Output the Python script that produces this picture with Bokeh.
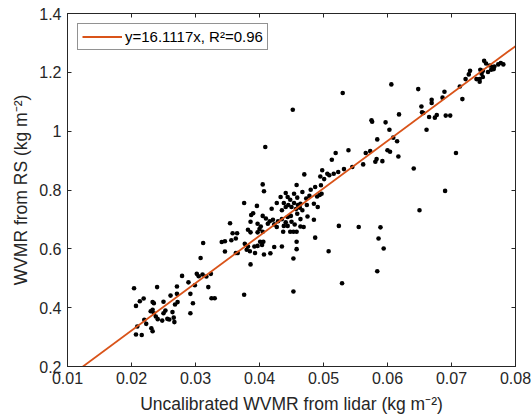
from bokeh.plotting import figure
from bokeh.models import Range1d, LinearAxis, FixedTicker, Legend, LegendItem
from bokeh.embed import file_html
from bokeh.resources import INLINE

# ---- data ----
lidar_wvmr = [
    0.0240, 0.0204, 0.0279, 0.0302, 0.0305, 0.0311, 0.0324, 0.0317, 0.0289, 0.0271,
    0.0299, 0.0320, 0.0261, 0.0271, 0.0292, 0.0219, 0.0213, 0.0233, 0.0235, 0.0250,
    0.0207, 0.0272, 0.0296, 0.0268, 0.0325, 0.0330, 0.0376, 0.0233, 0.0230, 0.0235,
    0.0253, 0.0250, 0.0264, 0.0238, 0.0241, 0.0248, 0.0256, 0.0266, 0.0292, 0.0220,
    0.0223, 0.0267, 0.0259, 0.0209, 0.0231, 0.0233, 0.0207, 0.0216,
    0.0312, 0.0341, 0.0346, 0.0356, 0.0377, 0.0382, 0.0392, 0.0380, 0.0385, 0.0393,
    0.0363, 0.0366, 0.0346, 0.0308, 0.0386, 0.0401, 0.0397,
    0.0470, 0.0498, 0.0506, 0.0516, 0.0523, 0.0495, 0.0501, 0.0509, 0.0405, 0.0407,
    0.0458, 0.0480, 0.0487, 0.0496, 0.0467, 0.0454, 0.0441, 0.0376, 0.0396, 0.0433,
    0.0444, 0.0448, 0.0459, 0.0473, 0.0478, 0.0490, 0.0494, 0.0497, 0.0427, 0.0438,
    0.0445, 0.0441, 0.0454, 0.0460, 0.0464, 0.0419, 0.0435, 0.0450, 0.0457, 0.0463,
    0.0474, 0.0485, 0.0491, 0.0390, 0.0387, 0.0405, 0.0410, 0.0416, 0.0421, 0.0429,
    0.0435, 0.0441, 0.0444, 0.0449, 0.0459, 0.0467, 0.0464, 0.0475, 0.0485, 0.0354,
    0.0386, 0.0397, 0.0402, 0.0400, 0.0413, 0.0423, 0.0427, 0.0438, 0.0444, 0.0450,
    0.0455, 0.0464, 0.0469, 0.0524, 0.0358, 0.0365, 0.0382, 0.0386, 0.0397, 0.0405,
    0.0437, 0.0448, 0.0453, 0.0458, 0.0487, 0.0363, 0.0406, 0.0458, 0.0404, 0.0417,
    0.0423, 0.0435, 0.0458, 0.0453, 0.0407, 0.0508,
    0.0606, 0.0530, 0.0648, 0.0669, 0.0669, 0.0653, 0.0654, 0.0656, 0.0618, 0.0677,
    0.0674, 0.0665, 0.0575, 0.0576, 0.0597, 0.0603, 0.0661, 0.0609, 0.0584, 0.0615,
    0.0539, 0.0573, 0.0566, 0.0600, 0.0604, 0.0617, 0.0583, 0.0581, 0.0592, 0.0562,
    0.0545, 0.0532, 0.0641,
    0.0751, 0.0754, 0.0760, 0.0764, 0.0767, 0.0773, 0.0777, 0.0781, 0.0766, 0.0762,
    0.0757, 0.0749, 0.0745, 0.0729, 0.0727, 0.0747, 0.0749, 0.0744, 0.0739, 0.0744,
    0.0722, 0.0713, 0.0689, 0.0686, 0.0717, 0.0691, 0.0698,
    0.0690, 0.0650, 0.0555, 0.0589, 0.0586, 0.0594, 0.0584, 0.0529,
    0.0452, 0.0409, 0.0519, 0.0513, 0.0453, 0.0707,
]
rs_wvmr = [
    0.470, 0.466, 0.508, 0.515, 0.507, 0.513, 0.515, 0.506, 0.486, 0.472,
    0.476, 0.470, 0.441, 0.447, 0.447, 0.431, 0.422, 0.419, 0.415, 0.420,
    0.406, 0.419, 0.415, 0.411, 0.432, 0.432, 0.444, 0.393, 0.388, 0.381,
    0.390, 0.381, 0.385, 0.370, 0.361, 0.356, 0.362, 0.366, 0.381, 0.359,
    0.345, 0.351, 0.360, 0.336, 0.330, 0.320, 0.309, 0.307,
    0.620, 0.623, 0.626, 0.629, 0.617, 0.608, 0.608, 0.597, 0.592, 0.586,
    0.586, 0.586, 0.591, 0.569, 0.547, 0.624, 0.610,
    0.853, 0.867, 0.855, 0.855, 0.861, 0.846, 0.837, 0.850, 0.819, 0.796,
    0.817, 0.801, 0.810, 0.816, 0.793, 0.787, 0.790, 0.756, 0.746, 0.776,
    0.776, 0.767, 0.774, 0.771, 0.780, 0.778, 0.783, 0.787, 0.756, 0.756,
    0.749, 0.742, 0.756, 0.749, 0.753, 0.736, 0.731, 0.742, 0.735, 0.740,
    0.749, 0.753, 0.742, 0.721, 0.715, 0.712, 0.703, 0.694, 0.699, 0.694,
    0.701, 0.690, 0.708, 0.712, 0.719, 0.731, 0.701, 0.710, 0.699, 0.687,
    0.692, 0.685, 0.676, 0.667, 0.685, 0.683, 0.674, 0.678, 0.678, 0.692,
    0.683, 0.676, 0.674, 0.678, 0.653, 0.653, 0.665, 0.656, 0.656, 0.658,
    0.658, 0.658, 0.658, 0.658, 0.638, 0.635, 0.624, 0.624, 0.613, 0.585,
    0.606, 0.608, 0.599, 0.567, 0.581, 0.592,
    1.159, 1.130, 1.143, 1.107, 1.096, 1.084, 1.064, 1.062, 1.057, 1.055,
    1.046, 1.048, 1.037, 1.032, 1.030, 1.005, 1.005, 0.978, 0.972, 0.966,
    0.935, 0.932, 0.926, 0.935, 0.930, 0.914, 0.905, 0.896, 0.898, 0.887,
    0.878, 0.871, 0.873,
    1.239, 1.230, 1.223, 1.218, 1.220, 1.227, 1.232, 1.227, 1.211, 1.209,
    1.201, 1.205, 1.209, 1.205, 1.193, 1.195, 1.184, 1.177, 1.177, 1.168,
    1.177, 1.152, 1.134, 1.114, 1.109, 1.053, 1.053,
    0.797, 0.731, 0.674, 0.673, 0.635, 0.601, 0.524, 0.483,
    1.073, 0.946, 0.926, 0.903, 0.455, 0.926,
]
fit_slope = 16.1117
fit_label = "y=16.1117x, R\u00b2=0.96"
x_ticks = [0.01, 0.02, 0.03, 0.04, 0.05, 0.06, 0.07, 0.08]
x_tick_labels = ["0.01", "0.02", "0.03", "0.04", "0.05", "0.06", "0.07", "0.08"]
y_ticks = [0.2, 0.4, 0.6, 0.8, 1.0, 1.2, 1.4]
y_tick_labels = ["0.2", "0.4", "0.6", "0.8", "1", "1.2", "1.4"]
x_title = "Uncalibrated WVMR from lidar (kg m\u207b\u00b2)"
y_title = "WVMR from RS (kg m\u207b\u00b2)"

FONT = "Liberation Sans"
AX = "#262626"

p = figure(width=531, height=417, output_backend="svg", toolbar_location=None,
           x_range=Range1d(0.01, 0.08), y_range=Range1d(0.2, 1.4),
           min_border_left=67, min_border_right=16, min_border_top=13,
           min_border_bottom=51, x_axis_label=x_title, y_axis_label=y_title)
p.xgrid.visible = False
p.ygrid.visible = False
p.background_fill_color = "white"
p.border_fill_color = "white"
p.outline_line_color = AX
p.outline_line_width = 1


def style(ax, ticks, labels, show):
    ax.ticker = FixedTicker(ticks=ticks)
    ax.major_label_overrides = {t: (l if show else "") for t, l in zip(ticks, labels)}
    ax.axis_line_color = AX
    ax.major_tick_line_color = AX
    ax.minor_tick_line_color = None
    ax.major_tick_in = 4
    ax.major_tick_out = 0
    ax.major_label_text_font = FONT
    ax.major_label_text_color = AX
    ax.axis_label_text_font = FONT
    ax.axis_label_text_font_style = "normal"
    ax.axis_label_text_color = AX
    if show:
        ax.major_label_text_font_size = "16px"
        ax.axis_label_text_font_size = "17.5px"
    else:
        ax.major_label_text_font_size = "1px"
        ax.major_label_standoff = 0


style(p.xaxis[0], x_ticks, x_tick_labels, True)
style(p.yaxis[0], y_ticks, y_tick_labels, True)
p.xaxis[0].major_label_standoff = 5
p.xaxis[0].axis_label_standoff = 7
p.yaxis[0].major_label_standoff = 6
p.yaxis[0].axis_label_standoff = 5

top_ax = LinearAxis()
right_ax = LinearAxis()
style(top_ax, x_ticks, x_tick_labels, False)
style(right_ax, y_ticks, y_tick_labels, False)
p.add_layout(top_ax, "above")
p.add_layout(right_ax, "right")

p.scatter(lidar_wvmr, rs_wvmr, size=4.6, marker="circle",
          fill_color="black", line_color=None)

line_x = [0.01, 0.08]
line_y = [fit_slope * v for v in line_x]
fit_r = p.line(line_x, line_y, line_color="#D95319", line_width=1.8)

legend = Legend(items=[LegendItem(label=fit_label, renderers=[fit_r])],
                location="top_left", margin=10, padding=4, spacing=0,
                glyph_width=40, glyph_height=17, label_height=17,
                label_standoff=3, label_text_font=FONT,
                label_text_font_size="15px", label_text_color="black",
                border_line_color=AX, border_line_width=1,
                background_fill_color="white", background_fill_alpha=1)
p.add_layout(legend)

open("out.html", "w").write(file_html(p, INLINE))
